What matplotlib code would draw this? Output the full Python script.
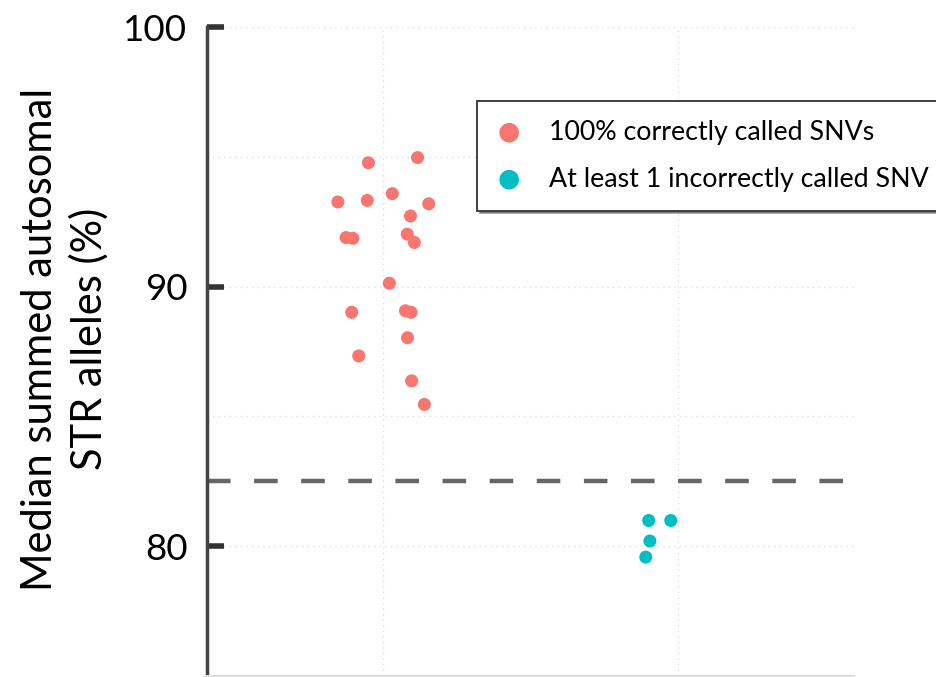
import matplotlib
matplotlib.use("Agg")
import matplotlib.pyplot as plt
import numpy as np

plt.rcParams['font.family'] = ['Lato', 'DejaVu Sans']

groups = ["100% correctly called SNVs", "At least 1 incorrectly called SNV"]
colors = ["#F8766D", "#00BFC4"]

# median summed autosomal STR alleles (%) per sample, with the jitter
correct_vals = [94.77, 94.97, 93.58, 93.26, 93.32, 93.19, 92.72, 91.89, 91.86,
                92.02, 91.70, 90.13, 89.01, 89.07, 89.01, 88.03, 87.33, 86.37, 85.46]
correct_jitter = [-0.051, 0.116, 0.030, -0.155, -0.055, 0.154, 0.092, -0.127, -0.104,
                  0.081, 0.105, 0.020, -0.108, 0.075, 0.094, 0.082, -0.084, 0.096, 0.139]
incorrect_vals = [80.99, 80.99, 80.20, 79.58]
incorrect_jitter = [-0.098, -0.023, -0.094, -0.108]

threshold = 82.5

fig = plt.figure(figsize=(9.37, 6.77), dpi=100)
ax = fig.add_axes([0.2209, 0.0015, 0.6905, 0.9586])

# dotted grid, drawn under everything
for y in [80, 85, 90, 95, 100]:
    ax.axhline(y, color="#dddddd", lw=1, ls=(0, (1, 3)), zorder=0)
for x in [0, 1]:
    ax.axvline(x, color="#dddddd", lw=1, ls=(0, (1, 3)), zorder=0)

ax.axhline(threshold, color="#666666", lw=3.2, ls=(0, (5.3, 5.3)), zorder=1)

ax.scatter(0 + np.array(correct_jitter), correct_vals, s=88, color=colors[0],
           edgecolors="none", label=groups[0], zorder=3)
ax.scatter(1 + np.array(incorrect_jitter), incorrect_vals, s=88, color=colors[1],
           edgecolors="none", label=groups[1], zorder=3)

ax.set_xlim(-0.6, 1.6)
ax.set_ylim(75, 100)
ax.set_yticks([80, 90, 100])
ax.set_yticklabels(["80", "90", "100"], fontsize=26.5)
ax.set_xticks([])

ax.tick_params(axis='y', direction='in', length=12, width=4, color="#333333", pad=14)

for s in ["top", "right"]:
    ax.spines[s].set_visible(False)
ax.spines["left"].set_color("#444444")
ax.spines["left"].set_linewidth(2.5)
ax.spines["bottom"].set_color("#dddddd")
ax.spines["bottom"].set_linewidth(1.5)

ax.set_ylabel("Median summed autosomal\nSTR alleles (%)", fontsize=30,
              linespacing=1.3)
ax.yaxis.set_label_coords(-0.152, 0.519)

leg = ax.legend(loc="upper left", bbox_to_anchor=(477 / 937, 1 - 101 / 677),
                bbox_transform=fig.transFigure, fontsize=19.3, frameon=True,
                fancybox=False, shadow=True, borderpad=0.7, labelspacing=0.82,
                handlelength=1.0, handletextpad=1.0, markerscale=1.5,
                borderaxespad=0)
leg.get_frame().set_edgecolor("#333333")
leg.get_frame().set_linewidth(1.3)

fig.savefig("out.png", dpi=100)
